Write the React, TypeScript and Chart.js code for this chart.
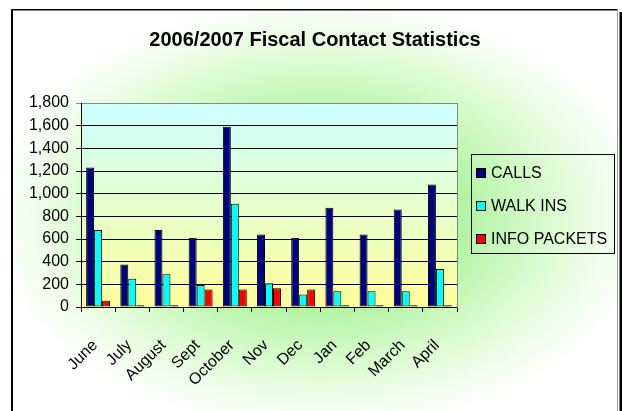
import React, { useEffect, useRef } from "react";
import { Chart, registerables } from "chart.js";

Chart.register(...registerables);

const titleText = "2006/2007 Fiscal Contact Statistics";
const categories = ["June", "July", "August", "Sept", "October", "Nov", "Dec", "Jan", "Feb", "March", "April"];
const seriesNames = ["CALLS", "WALK INS", "INFO PACKETS"];
const calls = [1230, 375, 680, 610, 1590, 640, 610, 875, 640, 860, 1080];
const walkIns = [680, 250, 290, 195, 910, 210, 110, 140, 140, 140, 335];
const infoPackets = [55, 15, 15, 155, 155, 165, 155, 15, 15, 15, 15];
const yMin = 0;
const yMax = 1800;
const yStep = 200;

const seriesColors = ["#000080", "#00FFFF", "#FF0000"];
const FONT = "Arial, 'Liberation Sans', sans-serif";

const backgroundPlugin = {
  id: "bgPlugin",
  beforeDraw(chart: any) {
    const { ctx, chartArea } = chart;
    ctx.save();
    ctx.fillStyle = "#ffffff";
    ctx.fillRect(0, 0, chart.width, chart.height);
    ctx.beginPath();
    ctx.rect(12, 10, 605, 401);
    ctx.clip();
    ctx.translate(320, 215);
    ctx.scale(330, 215);
    const g = ctx.createRadialGradient(0, 0, 0, 0, 0, 1);
    g.addColorStop(0, "rgb(165,238,145)");
    g.addColorStop(0.45, "rgb(180,244,165)");
    g.addColorStop(0.72, "rgb(222,252,212)");
    g.addColorStop(1, "rgb(255,255,255)");
    ctx.fillStyle = g;
    ctx.fillRect(-2, -2, 4, 4);
    ctx.restore();
    ctx.save();
    const lg = ctx.createLinearGradient(0, chartArea.top, 0, chartArea.bottom);
    lg.addColorStop(0, "rgb(204,255,255)");
    lg.addColorStop(1, "rgb(255,255,153)");
    ctx.fillStyle = lg;
    ctx.fillRect(chartArea.left, chartArea.top, chartArea.right - chartArea.left, chartArea.bottom - chartArea.top);
    ctx.restore();
  },
  afterDraw(chart: any) {
    const { ctx } = chart;
    ctx.save();
    ctx.strokeStyle = "#000";
    ctx.lineWidth = 1.5;
    ctx.beginPath();
    ctx.moveTo(11, 9.75);
    ctx.lineTo(617, 9.75);
    ctx.stroke();
    ctx.lineWidth = 2;
    ctx.beginPath();
    ctx.moveTo(12, 9);
    ctx.lineTo(12, 411);
    ctx.stroke();
    ctx.strokeStyle = "#999";
    ctx.lineWidth = 1;
    ctx.beginPath();
    ctx.moveTo(617.5, 9);
    ctx.lineTo(617.5, 411);
    ctx.stroke();
    ctx.fillStyle = "#000";
    ctx.fillRect(619.5, 12, 3, 400);

    ctx.strokeStyle = "#000";
    ctx.lineWidth = 1;
    ctx.strokeRect(471.5, 154.5, 143, 99);
    ctx.font = `16px ${FONT}`;
    ctx.textBaseline = "alphabetic";
    ctx.textAlign = "left";
    chart.data.datasets.forEach((ds: any, i: number) => {
      const by = 169 + i * 33;
      ctx.fillStyle = ds.backgroundColor;
      ctx.fillRect(477, by, 8, 8);
      ctx.strokeStyle = "#000";
      ctx.strokeRect(476.5, by - 0.5, 9, 9);
      ctx.fillStyle = "#000";
      ctx.fillText(ds.label, 491, 177.5 + i * 33);
    });
    ctx.restore();
  },
};

export default function App() {
  const ref = useRef<HTMLCanvasElement | null>(null);
  useEffect(() => {
    if (!ref.current) return;
    const series = [calls, walkIns, infoPackets];
    const chart = new Chart(ref.current, {
      type: "bar",
      data: {
        labels: categories,
        datasets: series.map((d, i) => ({
          label: seriesNames[i],
          data: d,
          backgroundColor: seriesColors[i],
          borderColor: "#000",
          borderWidth: 1,
          borderSkipped: false,
          categoryPercentage: 0.7,
          barPercentage: 1.0,
          yAxisID: "y",
        })),
      },
      options: {
        animation: false,
        responsive: false,
        maintainAspectRatio: false,
        layout: { padding: { left: 8, right: 0, top: 0, bottom: 0 } },
        plugins: {
          legend: { display: false },
          tooltip: { enabled: false },
          title: {
            display: true,
            text: titleText,
            color: "#000",
            font: { family: FONT, size: 20, weight: "bold" },
            padding: { top: 28, bottom: 51 },
          },
        },
        scales: {
          x: {
            grid: { display: true, drawOnChartArea: false, drawTicks: true, tickLength: 5, color: "#000", offset: true },
            border: { display: true, color: "#000", width: 1 },
            ticks: {
              autoSkip: false,
              maxRotation: 45,
              minRotation: 45,
              padding: 24,
              labelOffset: -3,
              color: "#000",
              font: { family: FONT, size: 16 },
            },
            afterFit: (s: any) => {
              s.height = 104;
            },
          },
          y: {
            min: yMin,
            max: yMax,
            ticks: {
              stepSize: yStep,
              padding: 7,
              color: "#000",
              font: { family: FONT, size: 16 },
            },
            grid: {
              color: (c: any) => (c.tick && c.tick.value === yMax ? "#888" : "#000"),
              tickLength: 5,
              lineWidth: 1,
            },
            border: { display: true, color: "#000", width: 1 },
            afterFit: (s: any) => {
              s.width = 73;
            },
          },
          y2: {
            type: "linear",
            position: "right",
            display: true,
            grid: { display: false, drawOnChartArea: false, drawTicks: false },
            ticks: { display: false },
            border: { display: true, color: "#888", width: 1 },
            afterFit: (s: any) => {
              s.width = 165;
            },
          },
        },
      } as any,
      plugins: [backgroundPlugin],
    });
    return () => chart.destroy();
  }, []);
  return (
    <div style={{ position: "absolute", left: 0, top: 0, width: 622, height: 411 }}>
      <canvas ref={ref} width={622} height={411} style={{ display: "block" }} />
    </div>
  );
}
